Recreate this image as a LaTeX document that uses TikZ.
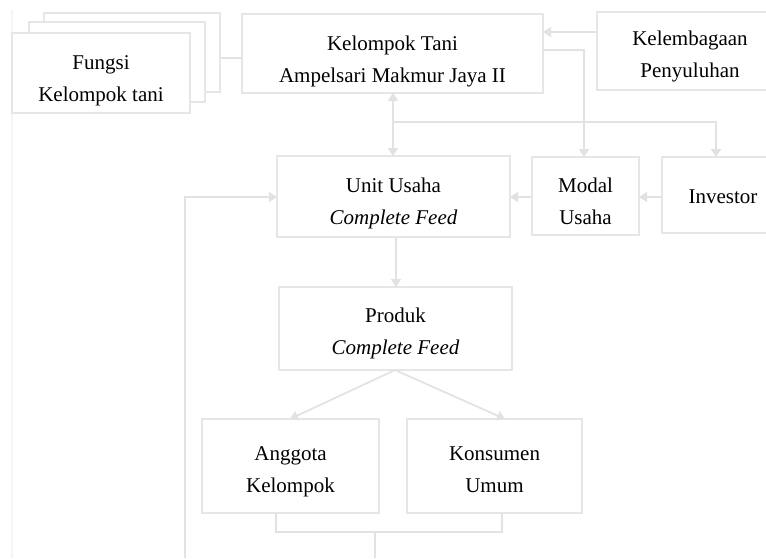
\documentclass[tikz,border=0pt]{standalone}
\usepackage{fontspec}
\setmainfont{Liberation Serif}
\usetikzlibrary{arrows.meta}
\definecolor{boxline}{HTML}{E6E6E6}
\definecolor{conline}{HTML}{E2E2E2}
\definecolor{faintline}{HTML}{F5F5F5}
\tikzset{
  boxstyle/.style={draw=boxline, line width=1.7pt, fill=white},
  con/.style={draw=conline, line width=1.7pt},
  tip/.tip={Triangle[length=8pt,width=10pt]},
  arr/.style={con, -tip},
  lbl/.style={align=center, font=\fontsize{21}{31.5}\selectfont, inner sep=0pt},
}
\begin{document}
\begin{tikzpicture}[x=1pt,y=-1pt]
\useasboundingbox (0,0) rectangle (766,558);
\fill[white] (0,0) rectangle (766,558);
% faint page rule
\coordinate (ft) at (12,10);
\coordinate (fb) at (12,558);
\draw[faintline, line width=1.2pt] (ft) -- (fb);
% Fungsi stack
\draw[boxstyle] (44,13) rectangle (220,92);
\draw[boxstyle] (29,22) rectangle (205,102);
\draw[boxstyle] (12,33) rectangle (190,113);
\node[lbl] (fungsi) at (101,79) {\strut Fungsi\\Kelompok tani\strut};
% boxes
\draw[boxstyle] (242,14) rectangle (543,93);
\node[lbl] (kt) at (392.5,60) {\strut Kelompok Tani\\Ampelsari Makmur Jaya II\strut};
\draw[boxstyle] (597,12) rectangle (780,90);
\node[lbl] (kel) at (690,55) {\strut Kelembagaan\\Penyuluhan\strut};
\draw[boxstyle] (277,156) rectangle (510,237);
\node[lbl] (uu) at (393.5,202) {\strut Unit Usaha\\\itshape Complete Feed\strut};
\draw[boxstyle] (532,157) rectangle (639,235);
\node[lbl] (modal) at (585.5,202) {\strut Modal\\Usaha\strut};
\draw[boxstyle] (662,157) rectangle (780,233);
\node[lbl] (inv) at (723,197) {Investor};
\draw[boxstyle] (279,287) rectangle (512,370);
\node[lbl] (prod) at (395.5,332) {\strut Produk\\\itshape Complete Feed\strut};
\draw[boxstyle] (202,419) rectangle (379,513);
\node[lbl] (ang) at (290.5,470) {\strut Anggota\\Kelompok\strut};
\draw[boxstyle] (407,419) rectangle (582,513);
\node[lbl] (kon) at (494.5,470) {\strut Konsumen\\Umum\strut};
% connectors
\coordinate (f3r) at (220,58);
\coordinate (ktl) at (242,58);
\draw[con] (f3r) -- (ktl);
\coordinate (kelL) at (597,32);
\coordinate (ktR1) at (543,32);
\draw[arr] (kelL) -- (ktR1);
\coordinate (ktR2) at (543,50);
\coordinate (modT) at (584,157);
\draw[arr] (ktR2) -| (modT);
\coordinate (ktB) at (393,93);
\coordinate (uuT) at (393,156);
\draw[con, tip-tip] (ktB) -- (uuT);
\coordinate (brA) at (393,122);
\coordinate (invT) at (716,157);
\draw[arr] (brA) -| (invT);
\coordinate (invL) at (662,197);
\coordinate (modR) at (639,197);
\draw[arr] (invL) -- (modR);
\coordinate (modL) at (532,197);
\coordinate (uuR) at (510,197);
\draw[arr] (modL) -- (uuR);
\coordinate (uuB) at (396,237);
\coordinate (prT) at (396,287);
\draw[arr] (uuB) -- (prT);
\coordinate (prB) at (395,370);
\coordinate (angT) at (290,419);
\coordinate (konT) at (505,419);
\draw[arr] (prB) -- (angT);
\draw[arr] (prB) -- (konT);
\coordinate (angB) at (276,513);
\coordinate (konB) at (502,513);
\draw[con] (angB) -- (276,532) -- (502,532) -- (konB);
\coordinate (midB) at (375,532);
\coordinate (midE) at (375,558);
\draw[con] (midB) -- (midE);
\coordinate (loopS) at (185,558);
\coordinate (uuL) at (277,197);
\draw[arr] (loopS) |- (uuL);
\end{tikzpicture}
\end{document}
